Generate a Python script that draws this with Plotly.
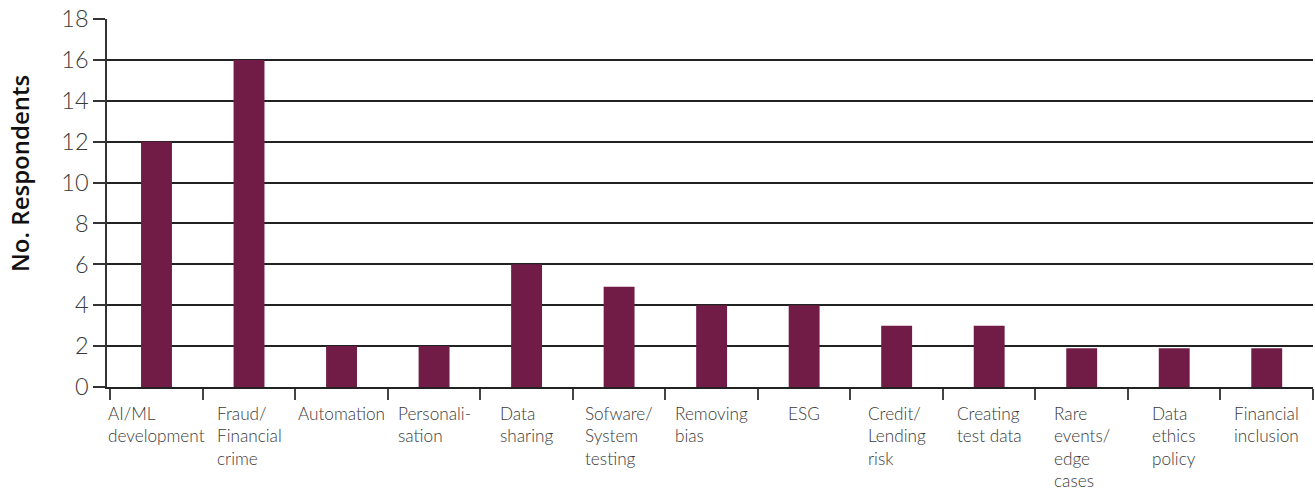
import plotly.graph_objects as go

# Use cases and number of respondents citing each
categories = [
    "AI/ML<br>development",
    "Fraud/<br>Financial<br>crime",
    "Automation",
    "Personali-<br>sation",
    "Data<br>sharing",
    "Sofware/<br>System<br>testing",
    "Removing<br>bias",
    "ESG",
    "Credit/<br>Lending<br>risk",
    "Creating<br>test data",
    "Rare<br>events/<br>edge<br>cases",
    "Data<br>ethics<br>policy",
    "Financial<br>inclusion",
]
respondents = [12, 16, 2, 2, 6, 4.9, 4, 4, 3, 3, 1.9, 1.9, 1.9]
y_ticks = [0, 2, 4, 6, 8, 10, 12, 14, 16, 18]

BAR_COLOR = "#701C46"
LABEL_FONT = dict(family="Lato", size=17.2, color="#3a3a3a", weight=300)

fig = go.Figure(
    go.Bar(
        x=categories,
        y=respondents,
        marker=dict(color=BAR_COLOR, line=dict(width=0)),
        hoverinfo="x+y",
    )
)

# Category labels: left-aligned text blocks centred under each bar
for cat in categories:
    fig.add_annotation(
        x=cat, xref="x",
        y=0, yref="paper",
        yanchor="top", xanchor="center",
        yshift=-15,
        text=cat, align="left",
        showarrow=False,
        borderpad=0,
        font=LABEL_FONT,
    )

# Rotated y-axis title
fig.add_annotation(
    text="No. Respondents",
    textangle=-90,
    x=0, xref="paper", xanchor="center", xshift=-87,
    y=0.579, yref="paper", yanchor="middle",
    showarrow=False,
    font=dict(family="Open Sans", size=24, color="#111111", weight=600),
)

fig.update_layout(
    width=1315,
    height=492,
    margin=dict(l=107, r=2, t=19, b=105),
    paper_bgcolor="white",
    plot_bgcolor="white",
    bargap=0.666,
    showlegend=False,
    xaxis=dict(
        type="category",
        showticklabels=False,
        tickson="boundaries",
        ticks="outside",
        ticklen=11,
        tickcolor="#444444",
        tickwidth=1.5,
        showline=True,
        linecolor="#222222",
        linewidth=1.5,
        showgrid=False,
    ),
    yaxis=dict(
        range=[0, 18],
        tickvals=y_ticks,
        ticks="outside",
        ticklen=12,
        tickcolor="#333333",
        tickwidth=1.5,
        showline=True,
        linecolor="#333333",
        linewidth=1.5,
        showgrid=True,
        gridcolor="#222222",
        gridwidth=1.5,
        zeroline=False,
        tickfont=dict(family="Lato", size=23.5, color="#3a3a3a", weight=300),
    ),
)

fig.write_html("out.html")
